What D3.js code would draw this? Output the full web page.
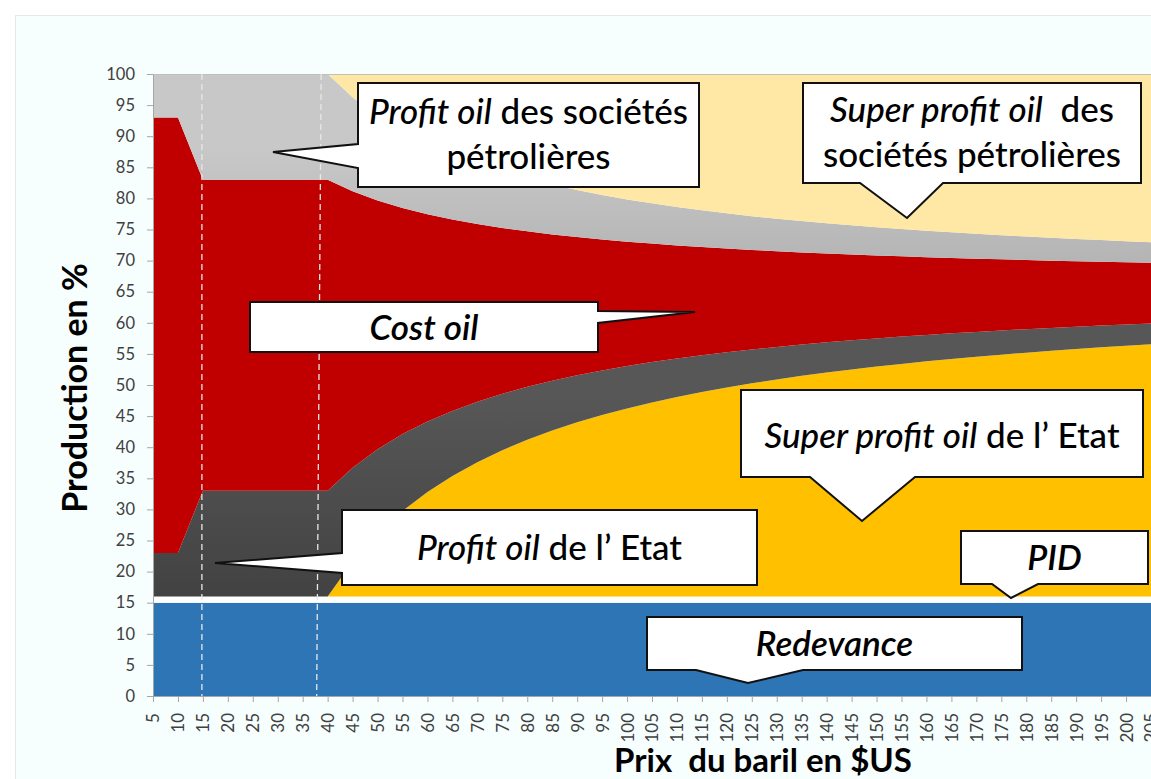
<!DOCTYPE html>
<html>
<head>
<meta charset="utf-8">
<script src="https://cdn.jsdelivr.net/npm/d3@7"></script>
<style>
  body { margin: 0; background: #fff; }
  svg { display: block; font-family: Lato, "Open Sans", sans-serif; }
  text { white-space: pre; }
</style>
</head>
<body>
<svg id="chart" width="1151" height="779"></svg>
<script>
// prix du baril ($US), un point tous les 5
var prices = [5, 10, 15, 20, 25, 30, 35, 40, 45, 50, 55, 60, 65, 70, 75, 80, 85, 90, 95, 100,
              105, 110, 115, 120, 125, 130, 135, 140, 145, 150, 155, 160, 165, 170, 175, 180,
              185, 190, 195, 200, 205];
var yTicks = [0, 5, 10, 15, 20, 25, 30, 35, 40, 45, 50, 55, 60, 65, 70, 75, 80, 85, 90, 95, 100];

// parts de la production en % (empilées de bas en haut)
var redevance = [15, 15, 15, 15, 15, 15, 15, 15, 15, 15, 15, 15, 15, 15, 15, 15, 15, 15, 15, 15,
                 15, 15, 15, 15, 15, 15, 15, 15, 15, 15, 15, 15, 15, 15, 15, 15, 15, 15, 15, 15, 15];
var ecart = [1, 1, 1, 1, 1, 1, 1, 1, 1, 1, 1, 1, 1, 1, 1, 1, 1, 1, 1, 1,
             1, 1, 1, 1, 1, 1, 1, 1, 1, 1, 1, 1, 1, 1, 1, 1, 1, 1, 1, 1, 1];
var pid = [0, 0, 0, 0, 0, 0, 0, 0, 5.6, 10.08, 13.75, 16.8, 19.38, 21.6, 23.52, 25.2, 26.68, 28,
           29.18, 30.24, 31.2, 32.07, 32.87, 33.6, 34.27, 34.89, 35.47, 36, 36.5, 36.96, 37.39,
           37.8, 38.18, 38.54, 38.88, 39.2, 39.5, 39.79, 40.06, 40.32, 40.57];
var profitEtat = [7, 7, 17, 17, 17, 17, 17, 17, 15.11, 13.6, 12.36, 11.33, 10.46, 9.71, 9.07, 8.5,
                  8, 7.56, 7.16, 6.8, 6.48, 6.18, 5.91, 5.67, 5.44, 5.23, 5.04, 4.86, 4.69, 4.53,
                  4.39, 4.25, 4.12, 4, 3.89, 3.78, 3.68, 3.58, 3.49, 3.4, 3.32];
var costOil = [70, 70, 50, 50, 50, 50, 50, 50, 44.44, 40, 36.36, 33.33, 30.77, 28.57, 26.67, 25,
               23.53, 22.22, 21.05, 20, 19.05, 18.18, 17.39, 16.67, 16, 15.38, 14.81, 14.29, 13.79,
               13.33, 12.9, 12.5, 12.12, 11.76, 11.43, 11.11, 10.81, 10.53, 10.26, 10, 9.76];
var profitSoc = [7, 7, 17, 17, 17, 17, 17, 17, 15.11, 13.6, 12.36, 11.33, 10.46, 9.71, 9.07, 8.5,
                 8, 7.56, 7.16, 6.8, 6.48, 6.18, 5.91, 5.67, 5.44, 5.23, 5.04, 4.86, 4.69, 4.53,
                 4.39, 4.25, 4.12, 4, 3.89, 3.78, 3.68, 3.58, 3.49, 3.4, 3.32];
var superSoc = [0, 0, 0, 0, 0, 0, 0, 0, 3.73, 6.72, 9.16, 11.2, 12.92, 14.4, 15.68, 16.8, 17.79,
                18.67, 19.45, 20.16, 20.8, 21.38, 21.91, 22.4, 22.85, 23.26, 23.64, 24, 24.33,
                24.64, 24.93, 25.2, 25.45, 25.69, 25.92, 26.13, 26.34, 26.53, 26.71, 26.88, 27.04];

var keys = ["redevance", "ecart", "pid", "profitEtat", "costOil", "profitSoc", "superSoc"];
var colors = {
    redevance: "#2E75B6", ecart: "#FFFFFF", pid: "#FFC000", profitEtat: "url(#gradDark)",
    costOil: "#C00000", profitSoc: "url(#gradLight)", superSoc: "#FFE8A5"
};

var rows = prices.map(function(p, i) {
    return { price: p, redevance: redevance[i], ecart: ecart[i], pid: pid[i],
             profitEtat: profitEtat[i], costOil: costOil[i], profitSoc: profitSoc[i],
             superSoc: superSoc[i] };
});

var svg = d3.select("#chart"),
    margin = {top: 74, right: 0, bottom: 83, left: 153},
    width = +svg.attr("width") - margin.left - margin.right,
    height = +svg.attr("height") - margin.top - margin.bottom;

// fond du graphique
svg.append("rect").attr("x", 15.5).attr("y", 15.5).attr("width", 1200).attr("height", 800)
    .attr("fill", "#F6FEFE").attr("stroke", "#E4E8E8");

var defs = svg.append("defs");
var gl = defs.append("linearGradient").attr("id", "gradLight").attr("gradientUnits", "userSpaceOnUse")
    .attr("x1", 0).attr("y1", margin.top).attr("x2", 0).attr("y2", margin.top + 180);
gl.append("stop").attr("offset", 0).attr("stop-color", "#C8C8C8");
gl.append("stop").attr("offset", 1).attr("stop-color", "#A9A9A9");
var gd = defs.append("linearGradient").attr("id", "gradDark").attr("gradientUnits", "userSpaceOnUse")
    .attr("x1", 0).attr("y1", margin.top + 250).attr("x2", 0).attr("y2", margin.top + 470);
gd.append("stop").attr("offset", 0).attr("stop-color", "#575757");
gd.append("stop").attr("offset", 1).attr("stop-color", "#404040");

var g = svg.append("g").attr("transform", "translate(" + margin.left + "," + margin.top + ")");

var x = d3.scaleLinear().domain([5, 205]).range([0, width]);
var y = d3.scaleLinear().domain([0, 100]).range([height, 0]);

var series = d3.stack().keys(keys)(rows);
var area = d3.area()
    .x(function(d) { return x(d.data.price); })
    .y0(function(d) { return y(d[0]); })
    .y1(function(d) { return y(d[1]); });

g.selectAll("path.layer")
    .data(series)
  .enter().append("path")
    .attr("class", "layer")
    .attr("fill", function(d) { return colors[d.key]; })
    .attr("d", area);

// bord supérieur de la zone de tracé
g.append("line").attr("x1", 0).attr("x2", width).attr("y1", y(100) + 0.5).attr("y2", y(100) + 0.5)
    .attr("stroke", "#BFBFBF");

// repères verticaux en pointillés
var guides = [{top: 14.8, bottom: 14.8}, {top: 38.7, bottom: 37.8}];
g.selectAll("line.guide")
    .data(guides)
  .enter().append("line")
    .attr("class", "guide")
    .attr("x1", function(d) { return x(d.top); })
    .attr("x2", function(d) { return x(d.bottom); })
    .attr("y1", y(100)).attr("y2", y(0))
    .attr("stroke", "#E8E8E8").attr("stroke-width", 1.3).attr("stroke-dasharray", "6,4");

// axes
var xAxis = g.append("g")
    .attr("class", "x axis")
    .attr("transform", "translate(0," + height + ")")
    .call(d3.axisBottom(x).tickValues(prices).tickSize(6).tickSizeOuter(0));
xAxis.selectAll("text")
    .attr("transform", "rotate(-90)")
    .attr("text-anchor", "end")
    .attr("x", -17).attr("y", 0).attr("dy", "0.35em")
    .style("font-size", "17px").attr("fill", "#404040");

var yAxis = g.append("g")
    .attr("class", "y axis")
    .call(d3.axisLeft(y).tickValues(yTicks).tickSize(6).tickPadding(12).tickSizeOuter(0));
yAxis.selectAll("text").style("font-size", "16.5px").attr("fill", "#404040");

svg.selectAll(".axis path, .axis line").attr("stroke", "#A6A6A6");
svg.selectAll(".axis text").style("font-family", "Lato, sans-serif");

// bulles d'annotation
var callouts = [
    {x0: 358, y0: 83, x1: 699, y1: 187, side: "left", a: 144, b: 168, tip: [273, 152], w: 500,
     lines: [{y: 124, parts: [["Profit oil", true], [" des sociétés", false]]},
             {y: 169, parts: [["pétrolières", false]]}]},
    {x0: 803, y0: 83, x1: 1141, y1: 183, side: "bottom", a: 860, b: 943, tip: [907, 218], w: 500,
     lines: [{y: 122, parts: [["Super profit oil", true], ["  des", false]]},
             {y: 167, parts: [["sociétés pétrolières", false]]}]},
    {x0: 250, y0: 302, x1: 598, y1: 352, side: "right", a: 311, b: 323, tip: [695, 312], w: 600,
     lines: [{y: 340, parts: [["Cost oil", true]]}]},
    {x0: 741, y0: 390, x1: 1143, y1: 477, side: "bottom", a: 810, b: 915, tip: [862, 521], w: 500,
     lines: [{y: 448, parts: [["Super profit oil", true], [" de l’ Etat", false]]}]},
    {x0: 342, y0: 510, x1: 757, y1: 585, side: "left", a: 553, b: 573, tip: [215, 563], w: 500,
     lines: [{y: 560, parts: [["Profit oil", true], [" de l’ Etat", false]]}]},
    {x0: 961, y0: 531, x1: 1148, y1: 584, side: "bottom", a: 992, b: 1038, tip: [1011, 598], w: 600,
     lines: [{y: 570, parts: [["PID", true]]}]},
    {x0: 647, y0: 617, x1: 1022, y1: 670, side: "bottom", a: 696, b: 803, tip: [748, 683], w: 600,
     lines: [{y: 656, parts: [["Redevance", true]]}]}
];

function calloutPath(c) {
    var p = [[c.x0, c.y0], [c.x1, c.y0]];
    if (c.side == "right") p.push([c.x1, c.a], c.tip, [c.x1, c.b]);
    p.push([c.x1, c.y1]);
    if (c.side == "bottom") p.push([c.b, c.y1], c.tip, [c.a, c.y1]);
    p.push([c.x0, c.y1]);
    if (c.side == "left") p.push([c.x0, c.b], c.tip, [c.x0, c.a]);
    return "M" + p.join("L") + "Z";
}

var cg = svg.selectAll("g.callout")
    .data(callouts)
  .enter().append("g")
    .attr("class", "callout");

cg.append("path")
    .attr("d", calloutPath)
    .attr("fill", "#FFFFFF")
    .attr("stroke", "#111")
    .attr("stroke-width", 2)
    .attr("stroke-linejoin", "miter");

cg.each(function(c) {
    var el = d3.select(this);
    c.lines.forEach(function(l) {
        var t = el.append("text")
            .attr("x", (c.x0 + c.x1) / 2)
            .attr("y", l.y)
            .attr("text-anchor", "middle")
            .style("font-size", "35px")
            .style("font-weight", c.w)
            .attr("fill", "#000");
        l.parts.forEach(function(pt) {
            t.append("tspan")
                .style("font-style", pt[1] ? "italic" : "normal")
                .text(pt[0]);
        });
    });
});

// titres des axes
svg.append("text")
    .attr("transform", "translate(87,388) rotate(-90)")
    .attr("text-anchor", "middle")
    .style("font-size", "34px").style("font-weight", "bold")
    .attr("fill", "#000")
    .text("Production en %");

svg.append("text")
    .attr("x", 763).attr("y", 772)
    .attr("text-anchor", "middle")
    .style("font-size", "33px").style("font-weight", "bold")
    .attr("fill", "#000")
    .text("Prix  du baril en $US");
</script>
</body>
</html>
